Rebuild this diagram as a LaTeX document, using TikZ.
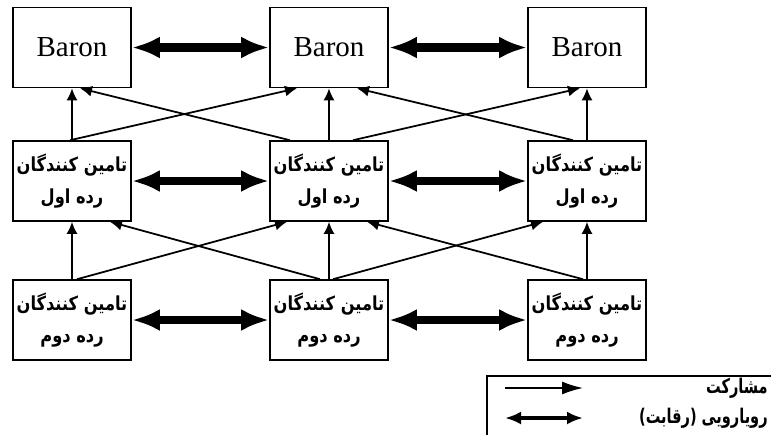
\documentclass[tikz,border=0pt]{standalone}
\usepackage{fontspec}
\setmainfont{Liberation Serif}
\newfontfamily\farsifont[Script=Arabic,FakeStretch=0.84]{DejaVu Sans}
\newfontfamily\farsinarrow[Script=Arabic,FakeStretch=0.72]{DejaVu Sans}
\TeXXeTstate=1
\usetikzlibrary{arrows.meta}

\tikzset{
    actor/.style={draw, line width=0.9pt, minimum width=2.36cm, minimum height=1.6cm, inner sep=1pt, align=center},
    baron/.style={actor, font=\fontsize{16.5}{18}\selectfont},
    supplier/.style={actor, font=\farsifont\bfseries\fontsize{11}{18}\selectfont},
    coop/.style={-{Latex[length=0.24cm,width=0.22cm]}, line width=1pt},
    rival/.style={{Latex[length=0.56cm,width=0.44cm]}-{Latex[length=0.56cm,width=0.44cm]}, line width=5pt},
    legtext/.style={anchor=east, inner sep=0pt, font=\farsinarrow\bfseries\fontsize{11.5}{13}\selectfont}
}

\begin{document}
\begin{tikzpicture}[x=0.02cm, y=-0.02cm]

    %--------------------%
    % Parameters
    %--------------------%
    \def\colA{72}
    \def\colB{329}
    \def\colC{587}
    \def\rowA{47.5}
    \def\rowB{181}
    \def\rowC{320}

    \useasboundingbox (0,0) rectangle (771,434);

    %--------------------%
    % Barons
    %--------------------%
    \node[baron] (B1) at (\colA,\rowA) {Baron};
    \node[baron] (B2) at (\colB,\rowA) {Baron};
    \node[baron] (B3) at (\colC,\rowA) {Baron};

    %--------------------%
    % First tier suppliers
    %--------------------%
    \node[supplier] (M1) at (\colA,\rowB) {\beginR تامین کنندگان\endR\\\beginR رده اول\endR};
    \node[supplier] (M2) at (\colB,\rowB) {\beginR تامین کنندگان\endR\\\beginR رده اول\endR};
    \node[supplier] (M3) at (\colC,\rowB) {\beginR تامین کنندگان\endR\\\beginR رده اول\endR};

    %--------------------%
    % Second tier suppliers
    %--------------------%
    \node[supplier] (L1) at (\colA,\rowC) {\beginR تامین کنندگان\endR\\\beginR رده دوم\endR};
    \node[supplier] (L2) at (\colB,\rowC) {\beginR تامین کنندگان\endR\\\beginR رده دوم\endR};
    \node[supplier] (L3) at (\colC,\rowC) {\beginR تامین کنندگان\endR\\\beginR رده دوم\endR};

    %--------------------%
    % Competition
    %--------------------%
    \draw[rival] (B1) -- (B2);
    \draw[rival] (B2) -- (B3);
    \draw[rival] (M1) -- (M2);
    \draw[rival] (M2) -- (M3);
    \draw[rival] (L1) -- (L2);
    \draw[rival] (L2) -- (L3);

    %--------------------%
    % Cooperation
    %--------------------%
    \draw[coop] (M1) -- (B1);
    \draw[coop] (M2) -- (B2);
    \draw[coop] (M3) -- (B3);
    \draw[coop] ([xshift=-0.04cm]M1.north) -- ([xshift=-0.64cm]B2.south);
    \draw[coop] ([xshift=-0.78cm]M2.north) -- ([xshift=0.16cm]B1.south);
    \draw[coop] ([xshift=0.48cm]M2.north) -- ([xshift=-0.14cm]B3.south);
    \draw[coop] ([xshift=-0.28cm]M3.north) -- ([xshift=0.56cm]B2.south);

    \draw[coop] (L1) -- (M1);
    \draw[coop] (L2) -- (M2);
    \draw[coop] (L3) -- (M3);
    \draw[coop] ([xshift=0.1cm]L1.north) -- ([xshift=-0.84cm]M2.south);
    \draw[coop] ([xshift=-0.18cm]L2.north) -- ([xshift=0.76cm]M1.south);
    \draw[coop] ([xshift=0.08cm]L2.north) -- ([xshift=-0.88cm]M3.south);
    \draw[coop] ([xshift=-0.08cm]L3.north) -- ([xshift=0.76cm]M2.south);

    %--------------------%
    % Legend
    %--------------------%
    \node[draw, line width=0.9pt, anchor=north west, minimum width=5.9cm, minimum height=1.3cm] (legend) at (486,375) {};
    \coordinate (c1) at (505,388);
    \coordinate (c2) at (583,388);
    \coordinate (r1) at (505,418);
    \coordinate (r2) at (583,418);
    \draw[-{Latex[length=0.42cm,width=0.26cm]}, line width=0.9pt] (c1) -- (c2);
    \draw[{Latex[length=0.32cm,width=0.26cm]}-{Latex[length=0.32cm,width=0.26cm]}, line width=2.8pt] (r1) -- (r2);
    \node[legtext] (coopText) at (768,388) {\beginR مشارکت\endR};
    \node[legtext] (rivalText) at (768,418) {\beginR رویارویی (رقابت)\endR};
\end{tikzpicture}
\end{document}
